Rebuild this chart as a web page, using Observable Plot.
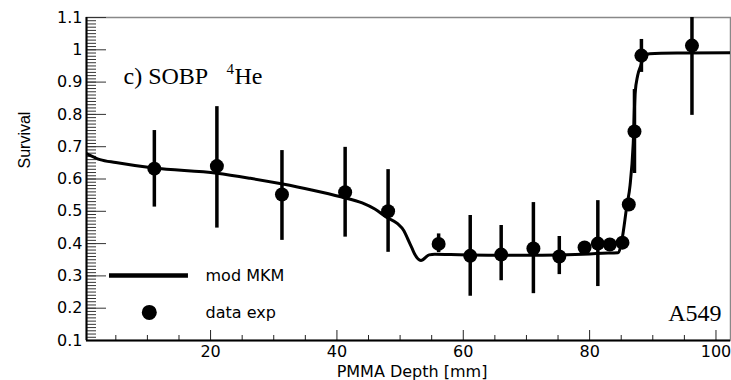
<!DOCTYPE html>
<html><head><meta charset="utf-8">
<script src="https://cdn.jsdelivr.net/npm/d3@7"></script>
<script src="https://cdn.jsdelivr.net/npm/@observablehq/plot@0.6"></script>
<style>body{margin:0;background:#fff} svg{display:block}</style>
</head><body><div id="chart"></div>
<script>
// Experimental data (A549, SOBP 4He)
const depth    = [11.1, 21.0, 31.3, 41.3, 48.1, 56.1, 61.1, 66.0, 71.1, 75.2, 79.2, 81.3, 83.2, 85.2, 86.2, 87.1, 88.2, 96.2];
const survival = [0.632, 0.640, 0.552, 0.559, 0.500, 0.399, 0.362, 0.366, 0.385, 0.360, 0.388, 0.400, 0.397, 0.403, 0.521, 0.747, 0.982, 1.013];
const errLow   = [0.513, 0.448, 0.410, 0.420, 0.373, 0.372, 0.237, 0.285, 0.245, 0.304, 0.373, 0.267, 0.382, 0.388, 0.501, 0.617, 0.930, 0.797];
const errHigh  = [0.750, 0.824, 0.688, 0.698, 0.629, 0.430, 0.487, 0.456, 0.527, 0.422, 0.403, 0.533, 0.412, 0.418, 0.541, 0.877, 1.032, 1.230];

// mod MKM model curve
const curveDepth    = [0.36, 2.5, 5, 11, 21, 26.3, 31.2, 36, 40.6, 44, 46, 47.9, 49.6, 50.6, 51.2, 51.9, 52.3, 53.3, 54.6, 55.5, 58, 65, 70, 75, 80, 82, 84.5, 85.1, 85.9, 86.4, 86.9, 87.2, 87.6, 88.1, 88.7, 89.5, 95, 102.3];
const curveSurvival = [0.679, 0.660, 0.651, 0.634, 0.618, 0.602, 0.585, 0.566, 0.545, 0.526, 0.507, 0.481, 0.462, 0.440, 0.415, 0.385, 0.368, 0.348, 0.365, 0.367, 0.366, 0.364, 0.364, 0.365, 0.368, 0.370, 0.372, 0.410, 0.518, 0.580, 0.710, 0.865, 0.920, 0.951, 0.982, 0.988, 0.990, 0.991];

// axes
const xDomain = [0.36, 102.3];
const yDomain = [0.1, 1.1];
const xMajorTicks = [20, 40, 60, 80, 100];
const xMinorTicks = [5, 10, 15, 25, 30, 35, 45, 50, 55, 65, 70, 75, 85, 90, 95];
const yMajorTicks = [0.1, 0.2, 0.3, 0.4, 0.5, 0.6, 0.7, 0.8, 0.9, 1.0, 1.1];
const yMinorTicks = d3.range(10, 111).map(d => d / 100);

const xLabel = "PMMA Depth [mm]";
const yLabel = "Survival";
const legendLabels = ["mod MKM", "data exp"];

const points = depth.map((d, i) => ({depth: d, survival: survival[i], lo: errLow[i], hi: errHigh[i]}));
const curve = curveDepth.map((d, i) => ({depth: d, survival: curveSurvival[i]}));

const serif = "'Liberation Serif', 'Times New Roman', serif";
const sans = "'DejaVu Sans', sans-serif";

const chart = Plot.plot({
  width: 731,
  height: 380,
  marginLeft: 86,
  marginRight: 1,
  marginTop: 17,
  marginBottom: 40,
  style: {fontFamily: sans, fontSize: "16px", color: "black", background: "white"},
  x: {domain: xDomain},
  y: {domain: yDomain},
  marks: [
    Plot.frame({stroke: "#888", strokeWidth: 1.5}),
    // ticks inside frame
    Plot.axisX({ticks: xMinorTicks, tickSize: -5, fill: "none", label: null, stroke: "#222"}),
    Plot.axisX({ticks: xMajorTicks, tickSize: -10, fill: "none", label: null, stroke: "#222"}),
    Plot.axisX({ticks: xMajorTicks, tickSize: 0, tickPadding: 5, label: null, fontSize: 16}),
    Plot.axisY({ticks: yMinorTicks, tickSize: -10, fill: "none", label: null, stroke: "#333"}),
    Plot.axisY({ticks: yMajorTicks, tickSize: -20, fill: "none", label: null, stroke: "#333"}),
    Plot.axisY({ticks: yMajorTicks, tickSize: 0, tickPadding: 4, label: null, fontSize: 16,
      tickFormat: d => String(+d.toFixed(1))}),
    Plot.ruleX([xDomain[0]], {stroke: "black", strokeWidth: 2}),
    Plot.ruleY([yDomain[0]], {stroke: "black", strokeWidth: 2}),
    // model curve
    Plot.line(curve, {x: "depth", y: "survival", stroke: "black", strokeWidth: 3, curve: "monotone-x", clip: true}),
    // data
    Plot.ruleX(points, {x: "depth", y1: "lo", y2: "hi", stroke: "black", strokeWidth: 3.5, clip: true}),
    Plot.dot(points, {x: "depth", y: "survival", r: 7, fill: "black", stroke: "none"}),
    // legend
    Plot.ruleY([0.301], {x1: 4.0, x2: 16.5, stroke: "black", strokeWidth: 4.5}),
    Plot.dot([{x: 10.3, y: 0.187}], {x: "x", y: "y", r: 7.5, fill: "black", stroke: "none"}),
    Plot.text([legendLabels[0]], {text: d => d, x: 19.2, y: 0.301, textAnchor: "start", fontSize: 16}),
    Plot.text([legendLabels[1]], {text: d => d, x: 19.2, y: 0.187, textAnchor: "start", fontSize: 16}),
    // annotations
    Plot.text(["c) SOBP"], {text: d => d, frameAnchor: "top-left", textAnchor: "start", lineAnchor: "bottom",
      dx: 37, dy: 66, fontFamily: serif, fontSize: 24}),
    Plot.text(["4"], {text: d => d, frameAnchor: "top-left", textAnchor: "start", lineAnchor: "bottom",
      dx: 140, dy: 56, fontFamily: serif, fontSize: 15}),
    Plot.text(["He"], {text: d => d, frameAnchor: "top-left", textAnchor: "start", lineAnchor: "bottom",
      dx: 148, dy: 66, fontFamily: serif, fontSize: 24}),
    Plot.text(["A549"], {text: d => d, frameAnchor: "bottom-right", textAnchor: "end", lineAnchor: "bottom",
      dx: -9, dy: -20, fontFamily: serif, fontSize: 24}),
    // axis labels
    Plot.text([xLabel], {text: d => d, frameAnchor: "bottom", lineAnchor: "bottom", dx: 3.5, dy: 36, fontSize: 16}),
    Plot.text([yLabel], {text: d => d, frameAnchor: "left", rotate: -90, dx: -62, dy: -10.5,
      fontFamily: "'Liberation Sans', Arial, sans-serif", fontSize: 16})
  ]
});
document.getElementById("chart").appendChild(chart);
</script>
</body></html>
